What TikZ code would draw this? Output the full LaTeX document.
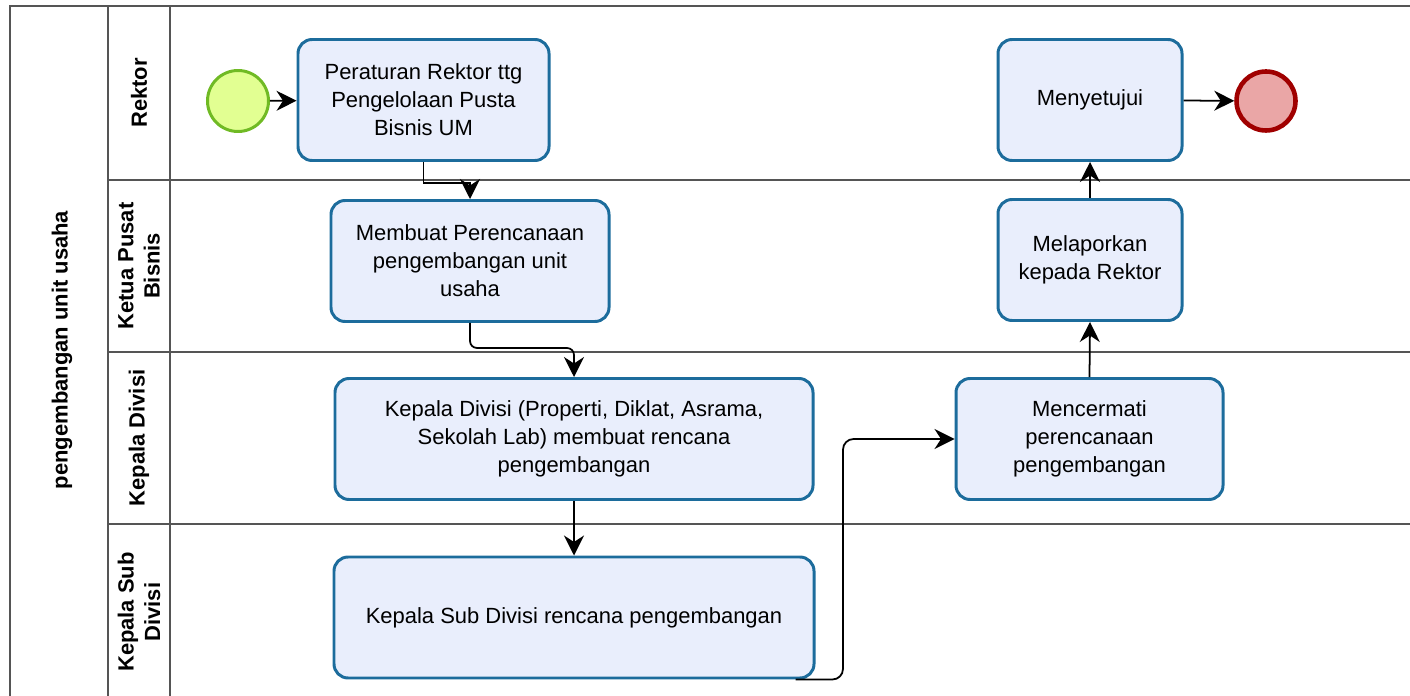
\documentclass[tikz,border=0pt]{standalone}
\usepackage{fontspec}
\setmainfont{Liberation Sans}
\usepackage{tikz}
\usetikzlibrary{arrows.meta, positioning, calc}

\definecolor{taskline}{RGB}{28,108,156}
\definecolor{taskfill}{RGB}{233,238,252}
\definecolor{startline}{RGB}{112,186,36}
\definecolor{startfill}{RGB}{226,255,146}
\definecolor{endline}{RGB}{160,0,0}
\definecolor{endfill}{RGB}{234,166,166}
\definecolor{laneline}{RGB}{85,85,85}

\begin{document}
\begin{tikzpicture}[
    task/.style={rectangle, rounded corners=8pt, draw=taskline, line width=1.7pt, fill=taskfill, minimum height=2.42cm, align=center, font=\fontsize{12.5}{16}\selectfont},
    startev/.style={circle, draw=startline, line width=1.7pt, fill=startfill, minimum size=1.22cm, inner sep=0pt},
    endev/.style={circle, draw=endline, line width=2.6pt, fill=endfill, minimum size=1.18cm, inner sep=0pt},
    flow/.style={-{Stealth[length=4mm, width=4mm, inset=1.3mm]}, line width=1pt, black},
    lane/.style={draw=laneline, line width=0.9pt},
    lanelabel/.style={rotate=90, align=center, font=\fontsize{12.5}{15}\selectfont\bfseries}
]

\useasboundingbox (0,0) rectangle (28.2,-13.92);

% Pool and lanes
\draw[lane] (0.2,-13.92) -- (0.2,-0.12) -- (28.2,-0.12);
\draw[lane] (2.16,-0.12) -- (2.16,-13.92);
\draw[lane] (3.4,-0.12) -- (3.4,-13.92);
\draw[lane] (2.16,-3.6) -- (28.2,-3.6);
\draw[lane] (2.16,-7.04) -- (28.2,-7.04);
\draw[lane] (2.16,-10.48) -- (28.2,-10.48);

% Lane labels
\node[lanelabel] (pool) at (1.24,-7.0) {pengembangan unit usaha};
\node[lanelabel] (lrektor) at (2.78,-1.86) {Rektor};
\node[lanelabel] (lketua) at (2.78,-5.32) {Ketua Pusat\\Bisnis};
\node[lanelabel] (ldivisi) at (2.78,-8.76) {Kepala Divisi};
\node[lanelabel] (lsubdiv) at (2.78,-12.24) {Kepala Sub\\Divisi};

% Events
\node[startev] (start) at (4.76,-2.02) {};
\node[endev] (end) at (25.32,-2.02) {};

% Tasks
\node[task, minimum width=5.02cm] (regulasi) at (8.47,-2.0) {Peraturan Rektor ttg\\Pengelolaan Pusta\\Bisnis UM};
\node[task, minimum width=3.68cm] (setuju) at (21.8,-2.0) {Menyetujui};
\node[task, minimum width=5.56cm] (rencana) at (9.4,-5.22) {Membuat Perencanaan\\pengembangan unit\\usaha};
\node[task, minimum width=3.68cm] (lapor) at (21.8,-5.2) {Melaporkan\\kepada Rektor};
\node[task, minimum width=9.56cm] (divisi) at (11.48,-8.78) {Kepala Divisi (Properti, Diklat, Asrama,\\Sekolah Lab) membuat rencana\\pengembangan};
\node[task, minimum width=5.34cm] (cermat) at (21.79,-8.78) {Mencermati\\perencanaan\\pengembangan};
\node[task, minimum width=9.6cm] (subdiv) at (11.48,-12.35) {Kepala Sub Divisi rencana pengembangan};

% Flows
\draw[flow] (start) -- (regulasi);
\draw[flow] (regulasi.south) -- ++(0,-0.42) -| (rencana.north);
\draw[flow, rounded corners=4pt] (rencana.south) -- ++(0,-0.5) -| (divisi.north);
\draw[flow] (divisi.south) -- (subdiv.north);
\draw[flow, rounded corners=6pt] ([xshift=-0.4cm]subdiv.south east) -- ++(0.95,0) |- (cermat.west);
\draw[flow] (cermat.north) -- (lapor.south);
\draw[flow] (lapor.north) -- (setuju.south);
\draw[flow] (setuju) -- (end);

\end{tikzpicture}
\end{document}
